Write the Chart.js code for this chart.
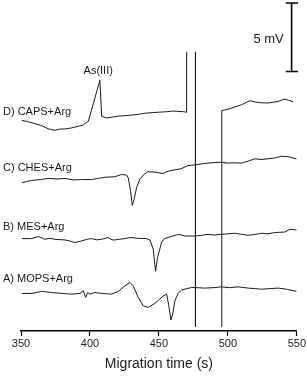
<!DOCTYPE html>
<html>
<head>
<meta charset="utf-8">
<script src="https://cdn.jsdelivr.net/npm/chart.js@4"></script>
<style>
	body { margin: 0; background: #fff; }
	#wrap { width: 307px; height: 376px; }
</style>
</head>
<body>
<div id="wrap"><canvas id="electropherogram"></canvas></div>
<script>
// ================ Data (time in s, signal in mV, traces stacked) ================
const xTicks = [350, 400, 450, 500, 550];

// D) CAPS+Arg  (null = break in the trace, off-scale excursion)
const capsTime = [350.5, 355, 360, 365, 370, 374.6, 378, 382, 386, 391.5, 395, 397.6, 398.8, 407.2, 408.5, 412, 416, 420, 425, 430, 435, 440, 449.5, 455, 460, 468, 470.1, 470.1, 473, 476.5, 476.5, 486, 495.6, 495.6, 497, 501, 505, 510, 516, 519.6, 524, 529, 533, 536.5, 541, 544, 547.3];
const capsValue = [15.37, 15.27, 15.13, 14.98, 14.74, 14.64, 14.73, 14.74, 14.8, 14.93, 15.02, 15.22, 15.29, 18.29, 15.66, 15.54, 15.6, 15.67, 15.7, 15.75, 15.8, 15.89, 15.96, 15.99, 16.04, 16.0, 15.95, 20.36, null, 20.36, 0.29, null, 0.29, 16.09, 16.11, 16.2, 16.34, 16.51, 16.8, 16.71, 16.65, 16.63, 16.69, 16.75, 16.92, 16.84, 16.71];

// C) CHES+Arg
const chesTime = [350.5, 354, 357.7, 364, 370, 376, 382, 388, 394, 401, 406, 411, 418, 423, 426.6, 427.8, 429.5, 430.7, 432, 433.8, 436, 438.6, 442, 447, 453, 456.7, 461, 466, 471, 476, 483, 490, 495.4, 500, 505, 510, 514.7, 519.6, 524, 529, 534, 539, 543.7, 549.8];
const chesValue = [10.81, 10.91, 10.98, 11.05, 11.13, 11.09, 11.13, 11.02, 11.05, 11.05, 11.13, 11.22, 11.25, 11.42, 11.37, 11.18, 10.18, 9.16, 9.6, 10.45, 11.05, 11.37, 11.62, 11.59, 11.49, 11.66, 11.75, 11.83, 12.07, 12.12, 12.22, 12.29, 12.31, 12.25, 12.27, 12.25, 12.39, 12.56, 12.51, 12.56, 12.62, 12.75, 12.71, 12.56];

// B) MES+Arg
const mesTime = [350.5, 357.7, 362.5, 365, 367, 371, 374.6, 382, 386, 389, 394, 398, 401, 405, 408.5, 413, 416, 418, 421, 425.4, 429, 435, 441, 443.5, 445.9, 447, 447.6, 449, 452, 454, 459, 464, 469, 476, 481, 485.7, 490, 495.4, 500, 505, 510, 514.7, 520, 524.4, 529, 534, 541.3, 545, 549.8];
const mesValue = [6.74, 6.74, 6.89, 6.8, 6.69, 6.76, 6.69, 6.64, 6.55, 6.45, 6.57, 6.69, 6.74, 6.65, 6.69, 6.82, 6.65, 6.64, 6.69, 6.74, 6.82, 6.76, 6.74, 6.64, 5.96, 4.87, 4.36, 5.36, 6.49, 6.74, 6.89, 7.05, 6.93, 6.93, 6.98, 7.05, 7.0, 7.05, 7.09, 7.13, 7.05, 6.98, 7.05, 7.13, 7.09, 7.18, 7.22, 7.42, 7.37];

// A) MOPS+Arg
const mopsTime = [350.5, 358, 365, 372, 379.5, 386.7, 392.7, 395.2, 396.9, 398.3, 400, 403.6, 408.5, 415.7, 420.5, 425.4, 429, 431.4, 435, 438.6, 442.2, 447, 450.7, 453, 455.6, 457, 458.7, 460, 461.6, 464, 466.4, 473.7, 483, 490, 495.4, 501, 507.5, 514.7, 520, 524.4, 530, 536.5, 542.5, 549.8];
const mopsValue = [2.74, 2.74, 2.89, 2.81, 2.74, 2.69, 2.74, 2.93, 2.45, 2.81, 2.69, 2.81, 2.74, 2.69, 2.89, 3.29, 3.54, 3.29, 2.45, 1.84, 1.72, 2.01, 2.33, 2.55, 2.69, 1.96, 0.8, 1.24, 2.2, 2.76, 2.98, 3.18, 3.13, 3.16, 3.22, 3.16, 3.22, 3.13, 3.09, 3.05, 3.09, 3.13, 3.05, 2.89];

// 5 mV scale bar
const barTime = [542, 550.9, null, 546.2, 546.2, null, 542, 550.9];
const barValue = [23.93, 23.93, null, 23.93, 18.93, null, 18.93, 18.93];

const traceLabels = ["D) CAPS+Arg", "C) CHES+Arg", "B) MES+Arg", "A) MOPS+Arg"];
const traceLabelLevel = [16.0, 11.9, 7.6, 3.8];

const FONT = "'Liberation Sans', Arial, sans-serif";
const INK = "#1a1a1a";

function toPoints(times, values) {
	return times.map((t, i) => ({ x: t === null ? 470 : t, y: values[i] }));
}

function trace(times, values) {
	return {
		data: toPoints(times, values),
		borderColor: INK,
		borderWidth: 1,
		pointRadius: 0,
		tension: 0,
		spanGaps: false,
	};
}

// ================ Text plugin ================
const textPlugin = {
	id: "textPlugin",
	afterDraw(chart) {
		const { ctx, scales } = chart;
		ctx.save();
		ctx.fillStyle = INK;
		ctx.textBaseline = "middle";
		ctx.font = "11px " + FONT;
		ctx.textAlign = "left";
		traceLabels.forEach((txt, i) => {
			ctx.fillText(txt, 3, scales.y.getPixelForValue(traceLabelLevel[i]));
		});
		ctx.textAlign = "center";
		ctx.fillText("As(III)", scales.x.getPixelForValue(406), scales.y.getPixelForValue(19.0));
		ctx.font = "13px " + FONT;
		ctx.textAlign = "right";
		ctx.fillText("5 mV", scales.x.getPixelForValue(540.5), scales.y.getPixelForValue(21.25));
		ctx.restore();
	},
};

// ================ Chart ================
const chart = new Chart(document.getElementById("electropherogram"), {
	type: "line",
	data: {
		datasets: [
			trace(capsTime, capsValue),
			trace(chesTime, chesValue),
			trace(mesTime, mesValue),
			trace(mopsTime, mopsValue),
			Object.assign(trace(barTime, barValue), { borderWidth: 1.6, clip: false, borderColor: "#000" }),
		],
	},
	options: {
		responsive: true,
		maintainAspectRatio: false,
		animation: false,
		layout: { padding: { left: 21, right: 10, top: 2, bottom: 1 } },
		plugins: { legend: { display: false }, tooltip: { enabled: false } },
		scales: {
			x: {
				type: "linear",
				min: 350,
				max: 550,
				afterBuildTicks: (axis) => {
					axis.ticks = xTicks.map((v) => ({ value: v }));
				},
				grid: { drawOnChartArea: false, tickLength: 5, tickColor: "#000", tickWidth: 1.2 },
				border: { color: "#000", width: 1.5 },
				ticks: { color: INK, padding: 1, font: { family: FONT, size: 11 } },
				title: {
					display: true,
					text: "Migration time (s)",
					color: INK,
					font: { family: FONT, size: 14 },
					padding: { top: 5, bottom: 2 },
				},
			},
			y: { display: false, min: 0, max: 24 },
		},
	},
	plugins: [textPlugin],
});
</script>
</body>
</html>
